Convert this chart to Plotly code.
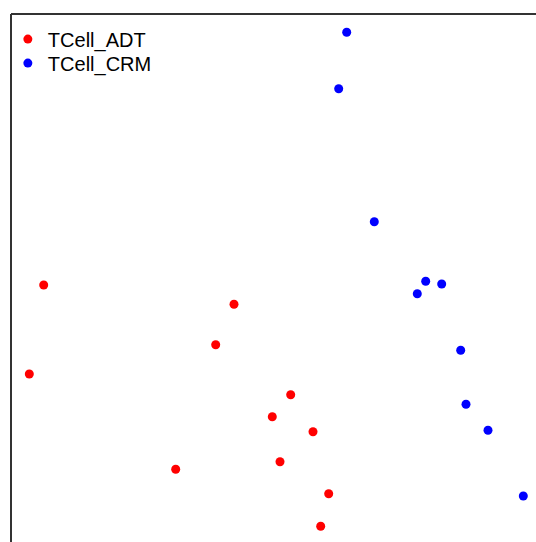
import plotly.graph_objects as go

# Values (arbitrary embedding units)
adt_x = [32.7, 223.0, 204.7, 18.3, 279.7, 261.3, 302.0, 269.0, 164.7, 317.7, 309.7]
adt_y = [257.0, 237.7, 197.3, 168.0, 147.3, 125.3, 110.3, 80.3, 72.7, 48.3, 15.7]
crm_x = [335.7, 327.7, 363.3, 414.7, 430.7, 406.3, 449.7, 455.0, 477.0, 512.3]
crm_y = [509.7, 453.3, 320.3, 260.7, 258.0, 248.3, 191.7, 137.7, 111.7, 46.0]
series_names = ["TCell_ADT", "TCell_CRM"]
series_colors = ["#ff0000", "#0000ff"]

W, H = 536, 542
ML, MT = 11, 14
PH = H - MT

fig = go.Figure()
fig.add_trace(go.Scatter(x=adt_x, y=adt_y, mode="markers", name=series_names[0],
                         legend="legend",
                         marker=dict(color=series_colors[0], size=9, line=dict(width=0))))
fig.add_trace(go.Scatter(x=crm_x, y=crm_y, mode="markers", name=series_names[1],
                         legend="legend2",
                         marker=dict(color=series_colors[1], size=9, line=dict(width=0))))

legend_font = dict(family="Liberation Sans, Arial, sans-serif", size=20, color="black")
common = dict(xanchor="left", yanchor="top", bgcolor="rgba(0,0,0,0)", borderwidth=0,
              font=legend_font, itemwidth=30)

fig.update_layout(
    width=W, height=H,
    margin=dict(l=ML, r=0, t=MT, b=0, pad=0),
    paper_bgcolor="white", plot_bgcolor="white",
    xaxis=dict(range=[0, W - ML], visible=False, fixedrange=True),
    yaxis=dict(range=[0, PH], visible=False, fixedrange=True),
    showlegend=True,
    legend=dict(x=-0.006, y=1 - 5.6 / PH, **common),
    legend2=dict(x=-0.006, y=1 - 29.6 / PH, **common),
    shapes=[
        dict(type="line", xref="paper", yref="paper", x0=0, x1=0, y0=0, y1=1,
             line=dict(color="#333333", width=2)),
        dict(type="line", xref="paper", yref="paper", x0=0, x1=1.02, y0=1, y1=1,
             line=dict(color="#333333", width=2)),
    ],
)

fig.write_html("out.html", config={"displayModeBar": False},
               post_script="document.body.style.margin='0';document.body.style.overflow='hidden';")
